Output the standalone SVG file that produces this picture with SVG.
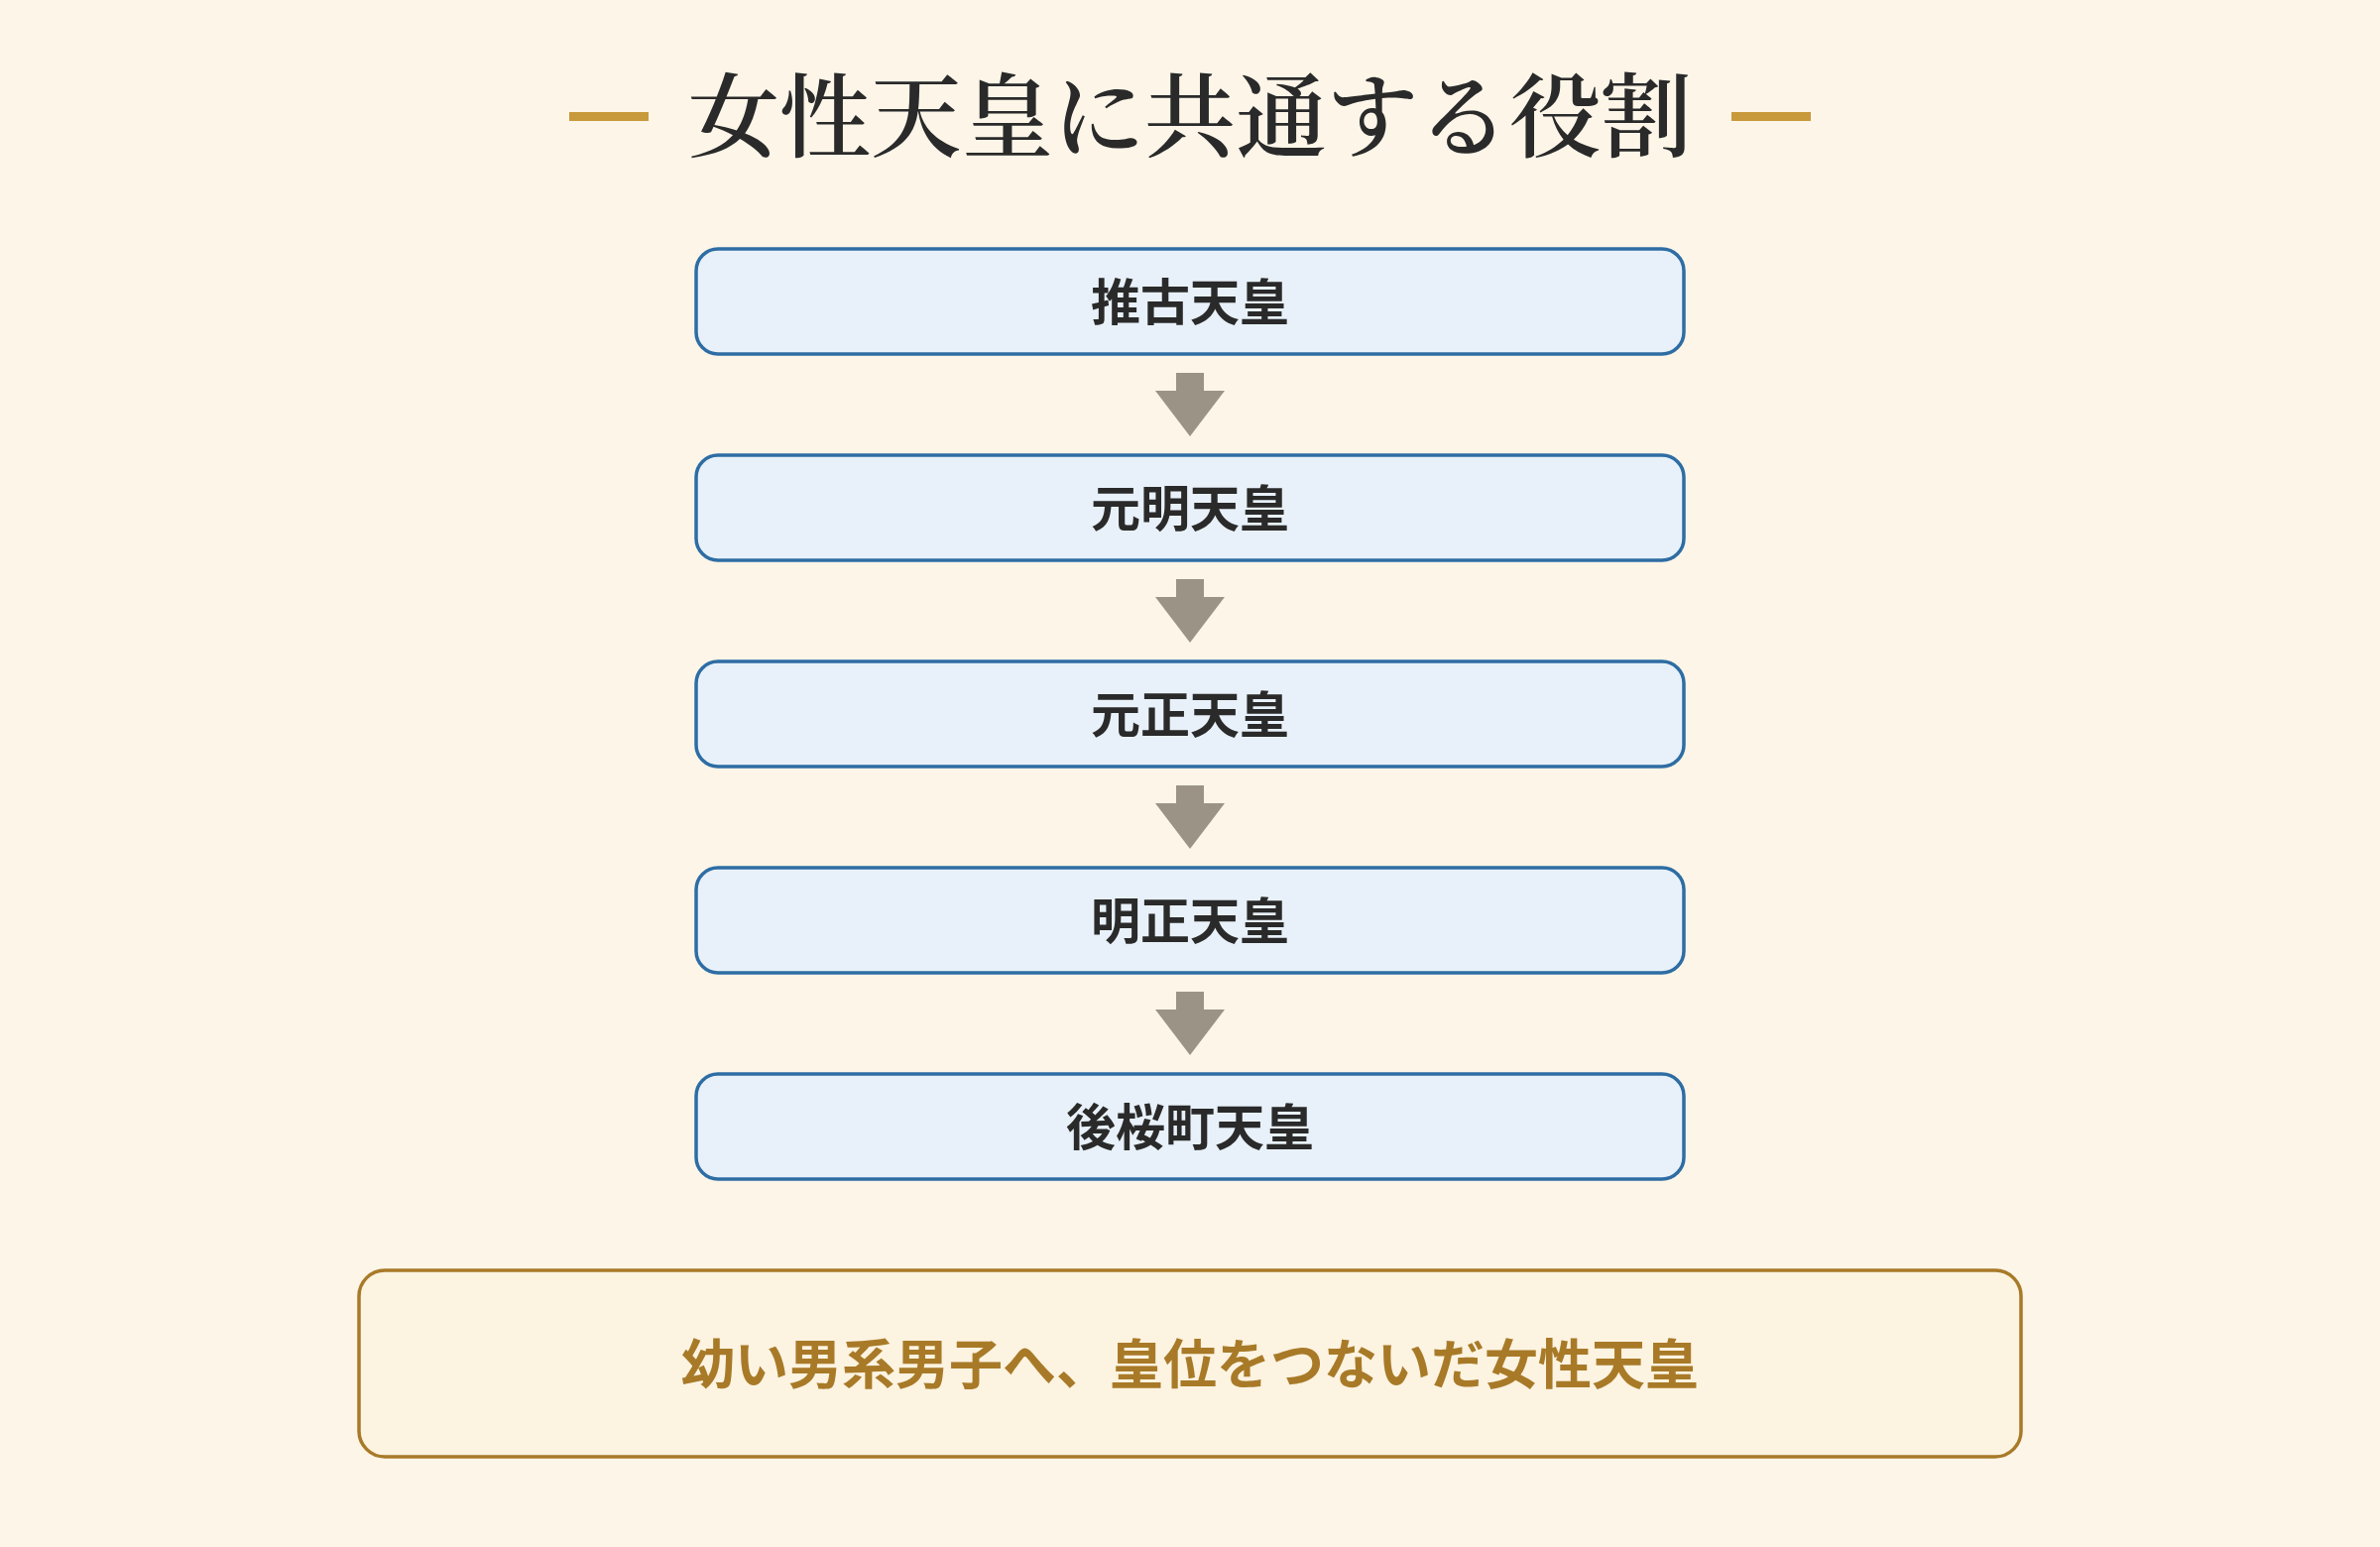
<svg xmlns="http://www.w3.org/2000/svg" width="2400" height="1560" viewBox="0 0 2400 1560">
  <style>
    .title { font-family: "Noto Serif CJK JP", "Noto Sans CJK JP", serif; font-weight: 600; font-size: 92px; fill: #2a2a2a; text-anchor: middle; dominant-baseline: central; }
    .dash { fill: #c99a3b; }
    .node rect { fill: #e8f1f9; stroke: #2e6da4; stroke-width: 3.5; }
    .node text { font-family: "Noto Sans CJK JP", "Noto Sans", sans-serif; font-weight: 700; font-size: 50px; fill: #2a2a2a; text-anchor: middle; dominant-baseline: central; }
    .arrow { fill: #9b9486; }
    .summary rect { fill: #fcf3e1; stroke: #a87a28; stroke-width: 3.5; }
    .summary text { font-family: "Noto Sans CJK JP", "Noto Sans", sans-serif; font-weight: 700; font-size: 54px; fill: #a87a28; text-anchor: middle; dominant-baseline: central; }
  </style>
  <defs>
    <g id="downArrow">
      <rect x="-14" y="0" width="28" height="19"/>
      <polygon points="-35,18 35,18 0,64"/>
    </g>
  </defs>
  <rect width="2400" height="1560" fill="#fcf5e8"/>

  <g id="title">
    <rect class="dash" x="574" y="113" width="80" height="9"/>
    <rect class="dash" x="1746" y="113" width="80" height="9"/>
    <text class="title" x="1200" y="111">女性天皇に共通する役割</text>
  </g>

  <g id="node-suiko" class="node">
    <rect x="702" y="251" width="996" height="106" rx="22"/>
    <text x="1200" y="301">推古天皇</text>
  </g>
  <g id="node-genmei" class="node">
    <rect x="702" y="459" width="996" height="106" rx="22"/>
    <text x="1200" y="509">元明天皇</text>
  </g>
  <g id="node-gensho" class="node">
    <rect x="702" y="667" width="996" height="106" rx="22"/>
    <text x="1200" y="717">元正天皇</text>
  </g>
  <g id="node-meisho" class="node">
    <rect x="702" y="875" width="996" height="106" rx="22"/>
    <text x="1200" y="925">明正天皇</text>
  </g>
  <g id="node-gosakuramachi" class="node">
    <rect x="702" y="1083" width="996" height="106" rx="22"/>
    <text x="1200" y="1133">後桜町天皇</text>
  </g>

  <g id="connectors" class="arrow">
    <use href="#downArrow" x="1200" y="376"/>
    <use href="#downArrow" x="1200" y="584"/>
    <use href="#downArrow" x="1200" y="792"/>
    <use href="#downArrow" x="1200" y="1000"/>
  </g>

  <g id="summary" class="summary">
    <rect x="362" y="1281" width="1676" height="188" rx="26"/>
    <text x="1200" y="1372">幼い男系男子へ、皇位をつないだ女性天皇</text>
  </g>
</svg>
